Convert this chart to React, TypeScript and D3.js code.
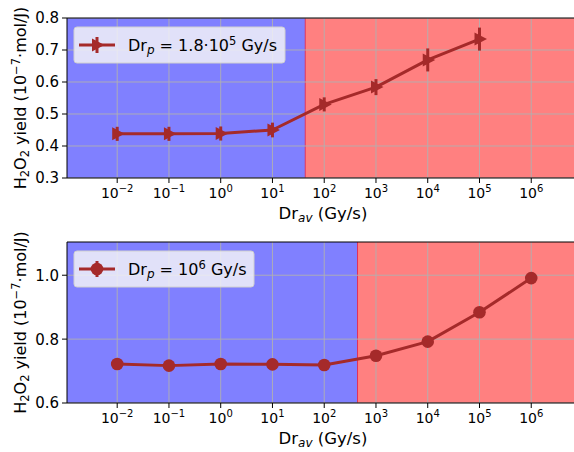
import { useEffect, useRef } from "react";
import * as d3 from "d3";

// dose rates (Gy/s)
const doseRates = [1e-2, 1e-1, 1e0, 1e1, 1e2, 1e3, 1e4, 1e5, 1e6];
const xTickExps = [-2, -1, 0, 1, 2, 3, 4, 5, 6];

// panel 1 : Dr_p = 1.8e5 Gy/s
const yieldTop = [0.438, 0.438, 0.439, 0.45, 0.53, 0.584, 0.669, 0.734];
const errTop = [0.022, 0.022, 0.022, 0.023, 0.022, 0.025, 0.036, 0.036];
const yTicksTop = [0.3, 0.4, 0.5, 0.6, 0.7, 0.8];
const thresholdTop = 43;

// panel 2 : Dr_p = 1e6 Gy/s
const yieldBottom = [0.722, 0.717, 0.722, 0.721, 0.719, 0.748, 0.792, 0.884, 0.991];
const errBottom = [0.014, 0.012, 0.014, 0.012, 0.016, 0.012, 0.012, 0.016, 0.008];
const yTicksBottom = [0.6, 0.8, 1.0];
const thresholdBottom = 440;

const W = 574;
const H = 452;
const color = "#a52a2a";
const font = "DejaVu Sans, sans-serif";

export default function App() {
  const ref = useRef<SVGSVGElement>(null);

  useEffect(() => {
    const svg = d3.select(ref.current);
    svg.selectAll("*").remove();

    const panels = [
      { top: 18, bottom: 178, ydom: [0.3, 0.8], ticks: yTicksTop, fmt: d3.format(".1f"),
        values: yieldTop, errs: errTop, thr: thresholdTop,
        marker: "tri", legend: "1.8·10", legendExp: "5", legendW: 211 },
      { top: 242, bottom: 403, ydom: [0.6, 1.104], ticks: yTicksBottom, fmt: d3.format(".1f"),
        values: yieldBottom, errs: errBottom, thr: thresholdBottom,
        marker: "circle", legend: "10", legendExp: "6", legendW: 180 },
    ];

    const left = 67;
    const x = d3.scaleLog([10 ** -2.97, 1e7], [left, 583]);

    panels.forEach((p, k) => {
      const y = d3.scaleLinear(p.ydom, [p.bottom, p.top]);
      const g = svg.append("g");
      const clipId = "clip" + k;
      g.append("clipPath").attr("id", clipId)
        .append("rect").attr("x", left).attr("y", p.top)
        .attr("width", W - left).attr("height", p.bottom - p.top);

      const body = g.append("g").attr("clip-path", `url(#${clipId})`);
      body.append("rect")
        .attr("x", left).attr("y", p.top)
        .attr("width", x(p.thr) - left).attr("height", p.bottom - p.top)
        .attr("fill", "#8080ff");
      body.append("rect")
        .attr("x", x(p.thr)).attr("y", p.top)
        .attr("width", W - x(p.thr)).attr("height", p.bottom - p.top)
        .attr("fill", "#ff8080");
      body.append("line")
        .attr("x1", x(p.thr)).attr("x2", x(p.thr))
        .attr("y1", p.top).attr("y2", p.bottom)
        .attr("stroke", "#e0305a").attr("stroke-width", 1);

      // grid
      body.selectAll(".vg").data(xTickExps).join("line")
        .attr("x1", d => x(10 ** d)).attr("x2", d => x(10 ** d))
        .attr("y1", p.top).attr("y2", p.bottom)
        .attr("stroke", "#b0b0b0").attr("stroke-width", 0.9);
      body.selectAll(".hg").data(p.ticks).join("line")
        .attr("x1", left).attr("x2", W)
        .attr("y1", d => y(d)).attr("y2", d => y(d))
        .attr("stroke", "#b0b0b0").attr("stroke-width", 0.9);

      const pts = p.values.map((v, i) => ({ x: doseRates[i], v, e: p.errs[i] }));

      body.append("path")
        .attr("fill", "none").attr("stroke", color).attr("stroke-width", 3)
        .attr("stroke-linejoin", "round")
        .attr("d", d3.line<any>().x(d => x(d.x)).y(d => y(d.v))(pts));

      body.selectAll(".eb").data(pts).join("line")
        .attr("x1", d => x(d.x)).attr("x2", d => x(d.x))
        .attr("y1", d => y(d.v - d.e)).attr("y2", d => y(d.v + d.e))
        .attr("stroke", color).attr("stroke-width", 3);

      const drawMarker = (sel: any, cx: (d: any) => number, cy: (d: any) => number) => {
        if (p.marker === "tri") {
          sel.append("path")
            .attr("d", "M-5,-6.5L7.5,0L-5,6.5Z")
            .attr("transform", (d: any) => `translate(${cx(d)},${cy(d)})`)
            .attr("fill", color);
        } else {
          sel.append("circle")
            .attr("cx", cx).attr("cy", cy).attr("r", 6.3)
            .attr("fill", color);
        }
      };
      const mk = body.selectAll(".mk").data(pts).join("g");
      drawMarker(mk, d => x(d.x), d => y(d.v));

      // spines
      g.append("path")
        .attr("d", `M${W + 2},${p.top}H${left}V${p.bottom}H${W + 2}`)
        .attr("fill", "none").attr("stroke", "#000").attr("stroke-width", 1);

      // x ticks
      const xt = g.selectAll(".xt").data(xTickExps).join("g")
        .attr("transform", d => `translate(${x(10 ** d)},${p.bottom})`);
      xt.append("line").attr("y2", 5).attr("stroke", "#000");
      const xtt = xt.append("text")
        .attr("y", 20).attr("text-anchor", "middle")
        .attr("font-family", font).attr("font-size", 14).attr("fill", "#000");
      xtt.append("tspan").text("10");
      xtt.append("tspan").attr("dy", -6).attr("font-size", 10)
        .text(d => String(d).replace("-", "\u2212"));

      // y ticks
      const yt = g.selectAll(".yt").data(p.ticks).join("g")
        .attr("transform", d => `translate(${left},${y(d)})`);
      yt.append("line").attr("x2", -5).attr("stroke", "#000");
      yt.append("text")
        .attr("x", -8).attr("dy", "0.36em").attr("text-anchor", "end")
        .attr("font-family", font).attr("font-size", 15).attr("fill", "#000")
        .text(d => p.fmt(d));

      // x label
      const xl = g.append("text")
        .attr("x", 323).attr("y", p.bottom + 41)
        .attr("text-anchor", "middle")
        .attr("font-family", font).attr("font-size", 16.5).attr("fill", "#000");
      xl.append("tspan").text("Dr");
      xl.append("tspan").attr("dy", 3).attr("font-size", 12).attr("font-style", "italic").text("av");
      xl.append("tspan").attr("dy", -3).text(" (Gy/s)");

      // y label
      const yl = g.append("text")
        .attr("transform", `translate(26,${(p.top + p.bottom) / 2}) rotate(-90)`)
        .attr("text-anchor", "middle")
        .attr("font-family", font).attr("font-size", 16).attr("fill", "#000");
      yl.append("tspan").text("H");
      yl.append("tspan").attr("dy", 3).attr("font-size", 11.5).text("2");
      yl.append("tspan").attr("dy", -3).text("O");
      yl.append("tspan").attr("dy", 3).attr("font-size", 11.5).text("2");
      yl.append("tspan").attr("dy", -3).text(" yield (10");
      yl.append("tspan").attr("dy", -6).attr("font-size", 11.5).text("\u22127");
      yl.append("tspan").attr("dy", 6).text("·mol/J)");

      // legend
      const lx = 74, ly = p.top + 9;
      const lg = g.append("g").attr("transform", `translate(${lx},${ly})`);
      lg.append("rect")
        .attr("width", p.legendW).attr("height", 36).attr("rx", 3)
        .attr("fill", "#f2f2f8").attr("fill-opacity", 0.85)
        .attr("stroke", "#d0d0d0");
      lg.append("line").attr("x1", 5).attr("x2", 41).attr("y1", 18).attr("y2", 18)
        .attr("stroke", color).attr("stroke-width", 3);
      lg.append("line").attr("x1", 23).attr("x2", 23).attr("y1", 10).attr("y2", 26)
        .attr("stroke", color).attr("stroke-width", 3);
      drawMarker(lg.selectAll(".lm").data([0]).join("g"), () => 23, () => 18);
      const lt = lg.append("text")
        .attr("x", 54).attr("y", 24)
        .attr("font-family", font).attr("font-size", 16).attr("fill", "#000");
      lt.append("tspan").text("Dr");
      lt.append("tspan").attr("dy", 3).attr("font-size", 12).attr("font-style", "italic").text("p");
      lt.append("tspan").attr("dy", -3).text(" = " + p.legend);
      lt.append("tspan").attr("dy", -6).attr("font-size", 11.5).text(p.legendExp);
      lt.append("tspan").attr("dy", 6).text(" Gy/s");
    });
  }, []);

  return (
    <svg ref={ref} width={W} height={H}
      style={{ position: "absolute", left: 0, top: 0, background: "#fff" }} />
  );
}
